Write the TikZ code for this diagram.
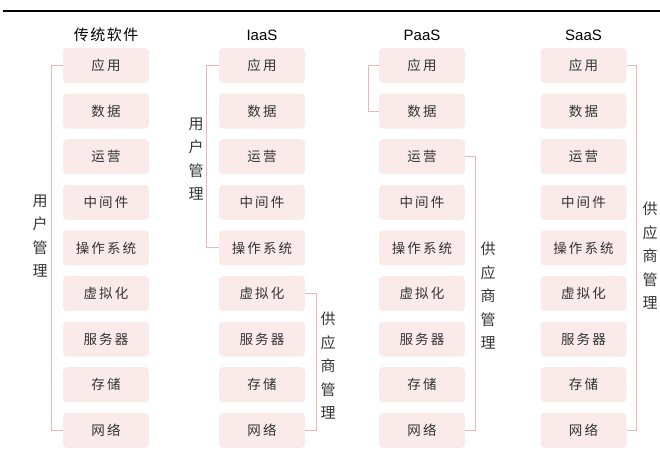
\documentclass[tikz,border=0pt]{standalone}
\usepackage{fontspec}
\setmainfont{Liberation Sans}
\newfontfamily\cjk{Noto Sans CJK SC}
\definecolor{boxfill}{HTML}{FBEAEA}
\definecolor{brk}{HTML}{E9B8B8}
\definecolor{txt}{HTML}{333333}
\begin{document}
\begin{tikzpicture}[x=1pt,y=-1pt,
  layerbox/.style={fill=boxfill,rounded corners=4pt,minimum width=86pt,minimum height=35pt,inner sep=0pt,text=txt,font=\cjk\fontsize{13.5}{15}\selectfont\addfontfeature{LetterSpace=16}},
  header/.style={text=black,font=\fontsize{15}{18}\selectfont},
  brline/.style={draw=brk,line width=0.9pt},
  vlabel/.style={text=txt,align=center,font=\cjk\fontsize{15}{23.5}\selectfont}]
\useasboundingbox (0,0) rectangle (660,461);
\draw[line width=2pt] (3,11) -- (660,11);
\node[header,font=\cjk\fontsize{15}{18}\selectfont\addfontfeature{LetterSpace=10}] (h1) at (106,35) {传统软件};
\node[header] (h2) at (262,35) {IaaS};
\node[header] (h3) at (422,35) {PaaS};
\node[header] (h4) at (583.5,35) {SaaS};
\foreach \cx [count=\c] in {106,262,422,583.5}{
  \foreach \t [count=\r] in {应用,数据,运营,中间件,操作系统,虚拟化,服务器,存储,网络}{
    \node[layerbox] (c\c r\r) at (\cx,{65.5+45.6*(\r-1)}) {\t};
  }
}
% column 1
\draw[brline] (c1r1.west) -- ++(-11,0) |- (c1r9.west);
\node[vlabel] (l1) at (40,236) {用\\户\\管\\理};
% column 2
\draw[brline] (c2r1.west) -- ++(-12,0) |- (c2r5.west);
\node[vlabel] (l2) at (196,159) {用\\户\\管\\理};
\draw[brline] (c2r6.east) -- ++(11,0) |- (c2r9.east);
\node[vlabel] (l3) at (328,366) {供\\应\\商\\管\\理};
% column 3
\draw[brline] (c3r1.west) -- ++(-10,0) |- (c3r2.west);
\draw[brline] (c3r3.east) -- ++(10,0) |- (c3r9.east);
\node[vlabel] (l4) at (488,296) {供\\应\\商\\管\\理};
% column 4
\draw[brline] (c4r1.east) -- ++(10,0) |- (c4r9.east);
\node[vlabel] (l5) at (650,256) {供\\应\\商\\管\\理};
\end{tikzpicture}
\end{document}
